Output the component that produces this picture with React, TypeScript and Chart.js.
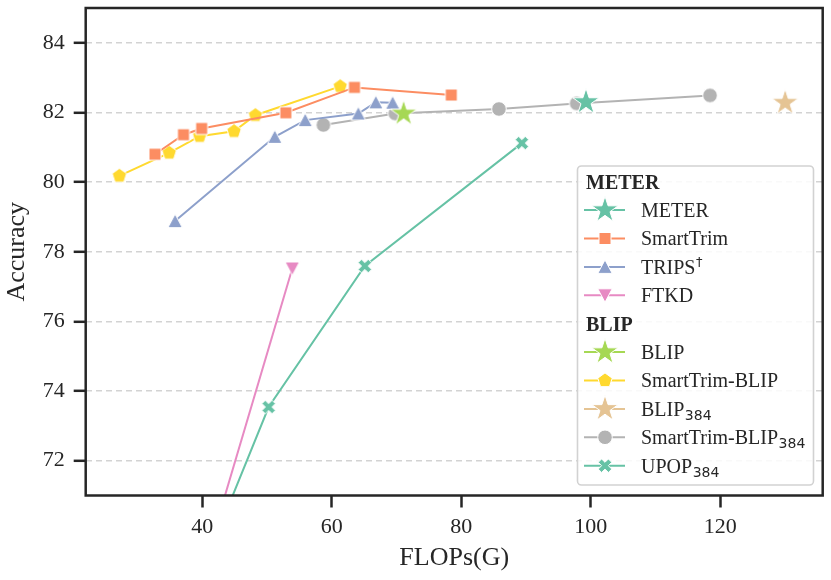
import React, { useEffect, useRef } from 'react';
import Chart from 'chart.js/auto';

// values: FLOPs (G) and accuracy per model
const meterFlops = [99.25];
const meterAcc = [82.3];
const smartTrimFlops = [32.7, 37.1, 39.9, 52.9, 63.5, 78.45];
const smartTrimAcc = [80.8, 81.36, 81.54, 81.99, 82.72, 82.5];
const tripsFlops = [35.8, 51.2, 55.9, 64.1, 66.8, 69.4];
const tripsAcc = [78.88, 81.3, 81.78, 81.97, 82.29, 82.28];
const ftkdFlops = [40.0, 53.9];
const ftkdAcc = [68.8, 77.52];
const blipFlops = [71.1];
const blipAcc = [81.97];
const smartTrimBlipFlops = [27.2, 34.9, 39.6, 44.9, 48.2, 61.3];
const smartTrimBlipAcc = [80.18, 80.84, 81.32, 81.46, 81.92, 82.75];
const blip384Flops = [130.0];
const blip384Acc = [82.28];
const smartTrimBlip384Flops = [58.7, 69.8, 85.8, 97.8, 118.4];
const smartTrimBlip384Acc = [81.64, 81.97, 82.1, 82.26, 82.49];
const upop384Flops = [40.0, 50.25, 65.1, 89.35];
const upop384Acc = [68.85, 73.54, 77.59, 81.12];

const xTicks = [40, 60, 80, 100, 120];
const yTicks = [72, 74, 76, 78, 80, 82, 84];

const SERIF = "'Liberation Serif', 'Times New Roman', serif";
const SANS = "'DejaVu Sans', sans-serif";
const INK = '#262626';

type Shape = 'star' | 'square' | 'triUp' | 'triDown' | 'pentagon' | 'circle' | 'x';

type Series = {
  label: string;
  sub?: string;
  sup?: string;
  group: 'METER' | 'BLIP';
  flops: number[];
  acc: number[];
  color: string;
  shape: Shape;
  order: number;
};

const series: Series[] = [
  { label: 'METER', group: 'METER', flops: meterFlops, acc: meterAcc, color: '#66c2a5', shape: 'star', order: 0 },
  { label: 'SmartTrim', group: 'METER', flops: smartTrimFlops, acc: smartTrimAcc, color: '#fc8d62', shape: 'square', order: 1 },
  { label: 'TRIPS', sup: '†', group: 'METER', flops: tripsFlops, acc: tripsAcc, color: '#8da0cb', shape: 'triUp', order: 2 },
  { label: 'FTKD', group: 'METER', flops: ftkdFlops, acc: ftkdAcc, color: '#e78ac3', shape: 'triDown', order: 6 },
  { label: 'BLIP', group: 'BLIP', flops: blipFlops, acc: blipAcc, color: '#a6d854', shape: 'star', order: 0 },
  { label: 'SmartTrim-BLIP', group: 'BLIP', flops: smartTrimBlipFlops, acc: smartTrimBlipAcc, color: '#ffd92f', shape: 'pentagon', order: 3 },
  { label: 'BLIP', sub: '384', group: 'BLIP', flops: blip384Flops, acc: blip384Acc, color: '#e5c494', shape: 'star', order: 0 },
  { label: 'SmartTrim-BLIP', sub: '384', group: 'BLIP', flops: smartTrimBlip384Flops, acc: smartTrimBlip384Acc, color: '#b3b3b3', shape: 'circle', order: 4 },
  { label: 'UPOP', sub: '384', group: 'BLIP', flops: upop384Flops, acc: upop384Acc, color: '#66c2a5', shape: 'x', order: 5 },
];

function tracePath(ctx: CanvasRenderingContext2D, shape: Shape) {
  const poly = (pts: number[][]) => {
    pts.forEach(([px, py], i) => (i ? ctx.lineTo(px, py) : ctx.moveTo(px, py)));
    ctx.closePath();
  };
  if (shape === 'star') {
    const R = 13.8;
    const r = R * 0.381966;
    const pts: number[][] = [];
    for (let i = 0; i < 10; i++) {
      const a = -Math.PI / 2 + (i * Math.PI) / 5;
      const rad = i % 2 ? r : R;
      pts.push([rad * Math.cos(a), rad * Math.sin(a)]);
    }
    poly(pts);
  } else if (shape === 'pentagon') {
    const R = 7.6;
    const pts: number[][] = [];
    for (let i = 0; i < 5; i++) {
      const a = -Math.PI / 2 + (i * 2 * Math.PI) / 5;
      pts.push([R * Math.cos(a), R * Math.sin(a)]);
    }
    poly(pts);
  } else if (shape === 'square') {
    ctx.rect(-6, -6, 12, 12);
  } else if (shape === 'triUp') {
    poly([[0, -7], [-7.2, 6.5], [7.2, 6.5]]);
  } else if (shape === 'triDown') {
    poly([[0, 7], [-7.2, -6.5], [7.2, -6.5]]);
  } else if (shape === 'circle') {
    ctx.arc(0, 0, 7.3, 0, Math.PI * 2);
  } else {
    const u = 2.4;
    const plus = [[-1, -3], [1, -3], [1, -1], [3, -1], [3, 1], [1, 1], [1, 3], [-1, 3], [-1, 1], [-3, 1], [-3, -1], [-1, -1]];
    const c = Math.SQRT1_2;
    poly(plus.map(([px, py]) => [(px - py) * c * u, (px + py) * c * u]));
  }
}

function drawMarker(ctx: CanvasRenderingContext2D, shape: Shape, x: number, y: number, color: string) {
  ctx.save();
  ctx.translate(x, y);
  ctx.beginPath();
  tracePath(ctx, shape);
  ctx.fillStyle = color;
  ctx.fill();
  ctx.lineWidth = 1;
  ctx.strokeStyle = '#ffffff';
  ctx.stroke();
  ctx.restore();
}

function markerImage(shape: Shape, color: string) {
  const c = document.createElement('canvas');
  c.width = 36;
  c.height = 36;
  const ctx = c.getContext('2d');
  if (ctx) drawMarker(ctx, shape, 18, 18, color);
  return c;
}

const framePlugin = {
  id: 'frameAndLegend',
  afterDatasetsDraw(chart: Chart) {
    const { ctx, chartArea: a } = chart;
    ctx.save();
    ctx.strokeStyle = INK;
    ctx.lineWidth = 2.5;
    ctx.strokeRect(a.left, a.top, a.right - a.left, a.bottom - a.top);
    ctx.restore();
  },
  afterDraw(chart: Chart) {
    const ctx = chart.ctx;
    const bx = 577.5;
    const by = 166;
    const bw = 236;
    const bh = 319;
    ctx.save();
    ctx.beginPath();
    ctx.roundRect(bx, by, bw, bh, 4);
    ctx.fillStyle = 'rgba(255,255,255,0.85)';
    ctx.fill();
    ctx.lineWidth = 1.6;
    ctx.strokeStyle = '#d2d2d2';
    ctx.stroke();

    const step = 28.4;
    let yc = 181.7;
    let lastGroup = '';
    ctx.textBaseline = 'alphabetic';
    ctx.textAlign = 'left';
    for (const s of series) {
      if (s.group !== lastGroup) {
        ctx.font = `bold 20px ${SERIF}`;
        ctx.fillStyle = INK;
        ctx.fillText(s.group, 586, yc + 6.8);
        lastGroup = s.group;
        yc += step;
      }
      ctx.strokeStyle = s.color;
      ctx.lineWidth = 2;
      ctx.beginPath();
      ctx.moveTo(584, yc);
      ctx.lineTo(625, yc);
      ctx.stroke();
      drawMarker(ctx, s.shape, 605, yc, s.color);

      ctx.fillStyle = INK;
      ctx.font = `20px ${SERIF}`;
      const base = yc + 6.8;
      ctx.fillText(s.label, 641, base);
      const w = ctx.measureText(s.label).width;
      if (s.sub) {
        ctx.font = `14px ${SANS}`;
        ctx.fillText(s.sub, 641 + w + 0.5, base + 4);
      }
      if (s.sup) {
        ctx.font = `13px ${SANS}`;
        ctx.fillText(s.sup, 641 + w + 0.5, base - 8);
      }
      yc += step;
    }
    ctx.restore();
  },
};

const App: React.FC = () => {
  const canvasRef = useRef<HTMLCanvasElement>(null);

  useEffect(() => {
    document.body.style.margin = '0';
    if (!canvasRef.current) return;
    const chart = new Chart(canvasRef.current, {
      type: 'line',
      data: {
        datasets: series.map((s) => ({
          label: s.sub ? s.label + s.sub : s.label,
          data: s.flops.map((x, i) => ({ x, y: s.acc[i] })),
          borderColor: s.color,
          backgroundColor: s.color,
          borderWidth: 2,
          pointStyle: markerImage(s.shape, s.color),
          pointRadius: 5,
          order: s.order,
          tension: 0,
        })),
      },
      options: {
        animation: false,
        responsive: false,
        layout: { padding: { top: 8, right: 8.3, left: 0, bottom: 0 } },
        plugins: { legend: { display: false }, tooltip: { enabled: false } },
        scales: {
          x: {
            type: 'linear',
            min: 22,
            max: 135.8,
            afterBuildTicks: (s: any) => {
              s.ticks = xTicks.map((v) => ({ value: v }));
            },
            afterFit: (s: any) => {
              s.height = 580 - 495.5;
              s.paddingLeft = 0;
              s.paddingRight = 0;
            },
            grid: { drawOnChartArea: false, drawTicks: true, tickLength: 12, tickWidth: 2.5, tickColor: INK },
            border: { display: false },
            ticks: { color: INK, font: { family: SERIF, size: 22 }, padding: 7, maxRotation: 0, autoSkip: false },
            title: {
              display: true,
              text: 'FLOPs(G)',
              color: INK,
              font: { family: SERIF, size: 26 },
              padding: { top: 0, bottom: 6 },
            },
          },
          y: {
            type: 'linear',
            min: 71,
            max: 85,
            afterBuildTicks: (s: any) => {
              s.ticks = yTicks.map((v) => ({ value: v }));
            },
            afterFit: (s: any) => {
              s.width = 85.7;
              s.paddingTop = 0;
              s.paddingBottom = 0;
            },
            grid: {
              color: '#d3d3d3',
              lineWidth: 1.6,
              drawTicks: true,
              tickLength: 12,
              tickWidth: 2.5,
              tickColor: INK,
              tickBorderDash: [],
            },
            border: { display: false, dash: [6, 4] },
            ticks: { color: INK, font: { family: SERIF, size: 22 }, padding: 9 },
            title: {
              display: true,
              text: 'Accuracy',
              color: INK,
              font: { family: SERIF, size: 26 },
              padding: { top: 2, bottom: 0 },
            },
          },
        },
      },
      plugins: [framePlugin],
    });
    return () => {
      chart.destroy();
    };
  }, []);

  return (
    <div style={{ width: '831px', height: '580px' }}>
      <canvas ref={canvasRef} width={831} height={580} />
    </div>
  );
};

export default App;
